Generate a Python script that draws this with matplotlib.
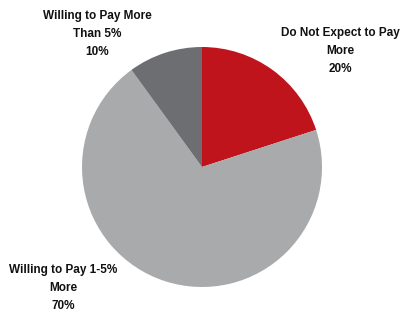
import matplotlib
matplotlib.use("Agg")
import matplotlib.pyplot as plt

labels = ["Do Not Expect to Pay\nMore", "Willing to Pay 1-5%\nMore", "Willing to Pay More\nThan 5%"]
values = [20, 70, 10]
colors = ["#C0141C", "#A9AAAC", "#6D6E71"]
label_pos = [(340, 51), (63, 288), (97, 34)]  # pixel centers

W, H = 400, 314
fig = plt.figure(figsize=(W/100, H/100), dpi=100)
cx, cy, r = 202, 167, 120
ax = fig.add_axes([(cx - r)/W, (H - cy - r)/H, 2*r/W, 2*r/H])
ax.pie(values, colors=colors, startangle=90, counterclock=False, radius=1,
       wedgeprops=dict(linewidth=0))
ax.set_xlim(-1, 1); ax.set_ylim(-1, 1)
ax.set_aspect('auto')
ax.axis('off')

for lab, v, (px, py) in zip(labels, values, label_pos):
    fig.text(px/W, 1 - py/H, f"{lab}\n{v}%", ha='center', va='center',
             fontsize=8.5, fontweight='bold', family='Liberation Sans',
             linespacing=1.62, color='#111111')

fig.savefig("out.png", dpi=100)
